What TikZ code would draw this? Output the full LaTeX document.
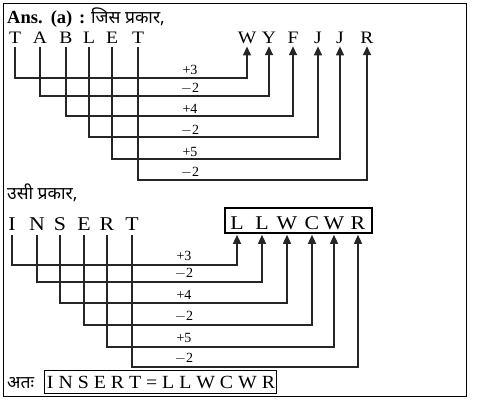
\documentclass[tikz,border=0pt]{standalone}
\usepackage{fontspec}
\setmainfont{Liberation Serif}
\newfontfamily\hindi[Script=Devanagari]{Noto Sans}
\usetikzlibrary{arrows.meta}
\newcommand\wl[1]{\scalebox{1.12}[1]{#1}}
\begin{document}
\begin{tikzpicture}[x=1pt,y=-1pt,
  letter/.style={inner sep=0pt,anchor=base,font=\fontsize{17.5}{18}\selectfont},
  bigletter/.style={inner sep=0pt,anchor=base,font=\fontsize{19.5}{20}\selectfont},
  lab/.style={inner sep=0pt,anchor=base,font=\fontsize{14}{15}\selectfont},
  hin/.style={inner sep=0pt,anchor=base west,font=\hindi\fontsize{17.5}{20}\selectfont},
  conn/.style={line width=1.4pt,draw=black!85,-{Triangle[length=9pt,width=8pt]}},
  frame/.style={draw=black,line width=0.9pt}]
\useasboundingbox (0,0) rectangle (488,407);
\draw[frame] (3,3) rectangle (466,396);
% header
\node[inner sep=0pt,anchor=base west,font=\fontsize{18.5}{20}\selectfont\bfseries] (ans) at (7,23) {Ans.\hspace{2pt} (a)\hspace{2pt} :};
\node[hin] (jis) at (91,23) {जिस प्रकार,};
% TABLET
\node[letter] (a1) at (15,43) {\wl{T}};
\node[letter] (a2) at (40,43) {\wl{A}};
\node[letter] (a3) at (66,43) {\wl{B}};
\node[letter] (a4) at (89,43) {\wl{L}};
\node[letter] (a5) at (112,43) {\wl{E}};
\node[letter] (a6) at (138,43) {\wl{T}};
\node[letter] (b1) at (247,43) {\wl{W}};
\node[letter] (b2) at (269,43) {\wl{Y}};
\node[letter] (b3) at (293,43) {\wl{F}};
\node[letter] (b4) at (318,43) {\wl{J}};
\node[letter] (b5) at (340,43) {\wl{J}};
\node[letter] (b6) at (367,43) {\wl{R}};
\coordinate (h1) at (0,78);
\coordinate (h2) at (0,96);
\coordinate (h3) at (0,116);
\coordinate (h4) at (0,137);
\coordinate (h5) at (0,159);
\coordinate (h6) at (0,180);
\draw[conn] ([yshift=-4pt]a1.south) -- (a1.south |- h1) -| ([yshift=-3pt]b1.south);
\draw[conn] ([yshift=-4pt]a2.south) -- (a2.south |- h2) -| ([yshift=-3pt]b2.south);
\draw[conn] ([yshift=-4pt]a3.south) -- (a3.south |- h3) -| ([yshift=-3pt]b3.south);
\draw[conn] ([yshift=-4pt]a4.south) -- (a4.south |- h4) -| ([yshift=-3pt]b4.south);
\draw[conn] ([yshift=-4pt]a5.south) -- (a5.south |- h5) -| ([yshift=-3pt]b5.south);
\draw[conn] ([yshift=-4pt]a6.south) -- (a6.south |- h6) -| ([yshift=-3pt]b6.south);
\node[lab] (l1) at (190,74) {+3};
\node[lab] (l2) at (190,92) {$-$2};
\node[lab] (l3) at (190,113) {+4};
\node[lab] (l4) at (190,134) {$-$2};
\node[lab] (l5) at (190,156) {+5};
\node[lab] (l6) at (190,176) {$-$2};
% second
\node[hin] (usi) at (7,199) {उसी प्रकार,};
\node[bigletter] (c1) at (12,230) {\wl{I}};
\node[bigletter] (c2) at (37,230) {\wl{N}};
\node[bigletter] (c3) at (60,230) {\wl{S}};
\node[bigletter] (c4) at (84,230) {\wl{E}};
\node[bigletter] (c5) at (107,230) {\wl{R}};
\node[bigletter] (c6) at (132,230) {\wl{T}};
\node[draw=black,line width=1.6pt,minimum width=147pt,minimum height=25pt,inner sep=0pt] (box) at (298.5,220.5) {};
\node[bigletter] (d1) at (237,229.5) {\wl{L}};
\node[bigletter] (d2) at (262,229.5) {\wl{L}};
\node[bigletter] (d3) at (287,229.5) {\wl{W}};
\node[bigletter] (d4) at (312,229.5) {\wl{C}};
\node[bigletter] (d5) at (334,229.5) {\wl{W}};
\node[bigletter] (d6) at (358,229.5) {\wl{R}};
\coordinate (k1) at (0,265);
\coordinate (k2) at (0,282);
\coordinate (k3) at (0,303);
\coordinate (k4) at (0,325);
\coordinate (k5) at (0,347);
\coordinate (k6) at (0,367);
\draw[conn] ([yshift=-5pt]c1.south) -- (c1.south |- k1) -| ([yshift=-1pt]d1.south |- box.south);
\draw[conn] ([yshift=-5pt]c2.south) -- (c2.south |- k2) -| ([yshift=-1pt]d2.south |- box.south);
\draw[conn] ([yshift=-5pt]c3.south) -- (c3.south |- k3) -| ([yshift=-1pt]d3.south |- box.south);
\draw[conn] ([yshift=-5pt]c4.south) -- (c4.south |- k4) -| ([yshift=-1pt]d4.south |- box.south);
\draw[conn] ([yshift=-5pt]c5.south) -- (c5.south |- k5) -| ([yshift=-1pt]d5.south |- box.south);
\draw[conn] ([yshift=-5pt]c6.south) -- (c6.south |- k6) -| ([yshift=-1pt]d6.south |- box.south);
\node[lab] (m1) at (184,260) {+3};
\node[lab] (m2) at (184,277) {$-$2};
\node[lab] (m3) at (184,299) {+4};
\node[lab] (m4) at (184,320) {$-$2};
\node[lab] (m5) at (184,342) {+5};
\node[lab] (m6) at (184,362) {$-$2};
% answer
\node[hin] (atah) at (7,388) {अतः};
\node[draw=black,line width=0.9pt,minimum width=232pt,minimum height=23pt,inner sep=0pt] (ansbox) at (160,381.5) {};
\node[inner sep=0pt,anchor=base,font=\fontsize{18.5}{20}\selectfont] (anstext) at (161,388.5) {\resizebox{228pt}{12.3pt}{I N S E R T = L L W C W R}};
\end{tikzpicture}
\end{document}
